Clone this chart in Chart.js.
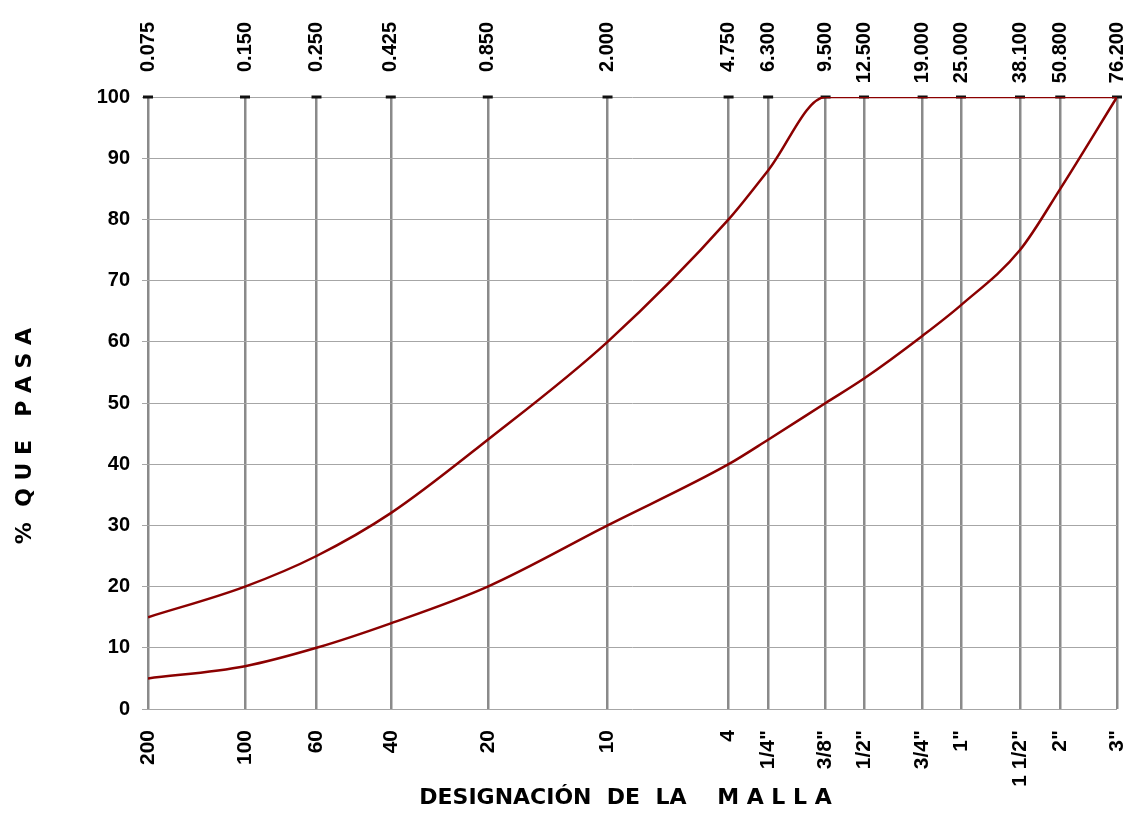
<!DOCTYPE html>
<html lang="es">
  <head>
    <meta charset="UTF-8" />
    <title>Curva granulometrica</title>
    <style>
      * {
        margin: 0;
        padding: 0;
        box-sizing: border-box;
      }
      body {
        background: white;
      }
      .chartBox {
        width: 1126px;
        height: 813px;
      }
    </style>
  </head>
  <body>
    <div class="chartBox">
      <canvas id="myChart"></canvas>
    </div>

    <script src="https://cdn.jsdelivr.net/npm/chart.js"></script>
    <script>
      // sieve openings (mm) and their names
      const sieves = [0.075, 0.15, 0.25, 0.425, 0.85, 2.0, 4.75, 6.3, 9.5, 12.5, 19.0, 25.0, 38.1, 50.8, 76.2];
      const topLabels = ["0.075", "0.150", "0.250", "0.425", "0.850", "2.000", "4.750", "6.300", "9.500", "12.500", "19.000", "25.000", "38.100", "50.800", "76.200"];
      const meshLabels = ["200", "100", "60", "40", "20", "10", "4", '1/4"', '3/8"', '1/2"', '3/4"', '1"', '1 1/2"', '2"', '3"'];

      // upper and lower limits (% que pasa)
      const upperLimit = [15, 20, 25, 32, 44, 60, 80, 88, 100, 100, 100, 100, 100, 100, 100];
      const lowerLimit = [5, 7, 10, 14, 20, 30, 40, 44, 50, 54, 61, 66, 75, 85, 100];
      const yTicks = [0, 10, 20, 30, 40, 50, 60, 70, 80, 90, 100];

      const xTitle = "DESIGNACIÓN  DE  LA    M A L L A";
      const yTitle = "%  Q U E   P A S A";

      const red = "#8b0000";
      const tickFont = { family: "Liberation Sans", size: 20, weight: "bold" };

      const toPoints = (vals) => sieves.map((s, i) => ({ x: s, y: vals[i] }));

      const data = {
        datasets: [
          {
            label: "Limite superior",
            data: toPoints(upperLimit),
            borderColor: red,
            borderWidth: 2.5,
            pointRadius: 0,
            cubicInterpolationMode: "monotone",
            order: 1,
          },
          {
            label: "Limite inferior",
            data: toPoints(lowerLimit),
            borderColor: red,
            borderWidth: 2.5,
            pointRadius: 0,
            cubicInterpolationMode: "monotone",
            order: 1,
          },
          {
            label: "caps",
            data: sieves.map((s) => ({ x: s, y: yTicks[yTicks.length - 1] })),
            showLine: false,
            pointStyle: "line",
            pointRadius: 5,
            pointBorderWidth: 3,
            pointBorderColor: "#111",
            clip: false,
            order: 2,
          },
        ],
      };

      // top labels (mm) start at the same height, plus the two axis titles
      const extraText = {
        id: "extraText",
        afterDraw(chart) {
          const {
            ctx,
            chartArea: { left, right },
            scales: { x },
          } = chart;
          ctx.save();
          ctx.fillStyle = "#000";
          ctx.font = "bold 20px 'Liberation Sans'";
          ctx.textAlign = "right";
          ctx.textBaseline = "middle";
          sieves.forEach((s, i) => {
            ctx.save();
            ctx.translate(x.getPixelForValue(s), 22);
            ctx.rotate(-Math.PI / 2);
            ctx.fillText(topLabels[i], 0, 0);
            ctx.restore();
          });

          ctx.font = "bold 22px 'DejaVu Sans'";
          ctx.textAlign = "center";
          ctx.fillText(xTitle, (left + right) / 2 - 7, 798);

          ctx.translate(25, 436);
          ctx.rotate(-Math.PI / 2);
          ctx.fillText(yTitle, 0, 0);
          ctx.restore();
        },
      };

      const config = {
        type: "line",
        data: data,
        options: {
          responsive: false,
          animation: false,
          layout: { padding: { top: 97, right: 9 } },
          plugins: {
            legend: { display: false },
            tooltip: { enabled: false },
          },
          scales: {
            x: {
              type: "logarithmic",
              position: "bottom",
              min: sieves[0],
              max: sieves[sieves.length - 1],
              afterBuildTicks: (s) => (s.ticks = sieves.map((v) => ({ value: v }))),
              afterFit: (s) => {
                s.height = 104;
                s.paddingLeft = 0;
                s.paddingRight = 0;
              },
              grid: { color: "#8a8a8a", lineWidth: 2.5, drawTicks: false },
              border: { display: false },
              ticks: {
                autoSkip: false,
                minRotation: 90,
                maxRotation: 90,
                padding: 21,
                color: "#000",
                font: { family: "Liberation Sans", size: 21, weight: "bold" },
                callback: (v, i) => meshLabels[i],
              },
            },
            y: {
              min: 0,
              max: 100,
              afterBuildTicks: (s) => (s.ticks = yTicks.map((v) => ({ value: v }))),
              afterFit: (s) => {
                s.width = 148;
                s.paddingTop = 0;
                s.paddingBottom = 0;
              },
              grid: { color: "#a6a6a6", lineWidth: 1, tickLength: 6 },
              border: { display: false },
              ticks: {
                color: "#000",
                padding: 12,
                font: tickFont,
              },
            },
          },
        },
        plugins: [extraText],
      };

      const canvas = document.getElementById("myChart");
      canvas.width = 1126;
      canvas.height = 813;
      const myChart = new Chart(canvas, config);
    </script>
  </body>
</html>
